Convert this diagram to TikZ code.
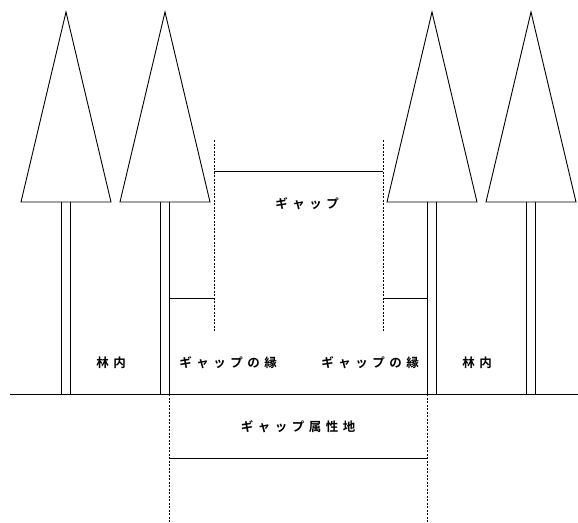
\documentclass[tikz,border=0pt]{standalone}
\usepackage{fontspec}
\newfontfamily\jp[LetterSpace=36]{Noto Sans CJK JP Bold}
\usepackage{tikz}

\tikzset{
  ln/.style={black, line width=0.9pt},
  dsh/.style={black, line width=0.8pt, dash pattern=on 2pt off 1.5pt},
  lbl/.style={font=\jp\fontsize{12.5}{12.5}\selectfont, inner sep=0pt}
}

\begin{document}
\begin{tikzpicture}[x=1pt, y=-1pt]
    \useasboundingbox (0,0) rectangle (578,522);
    % trees: crown and double trunk
    \foreach \tx in {66,165,432,531} {
      \draw[ln] (\tx,12) -- (\tx+45,202) -- (\tx-45,202) -- cycle;
      \draw[ln] (\tx-4.5,202) -- (\tx-4.5,394);
      \draw[ln] (\tx+4.5,202) -- (\tx+4.5,394);
    }
    % ground
    \draw[ln] (10,394) -- (578,394);
    % gap above
    \draw[dsh] (214,140) -- (214,331);
    \draw[dsh] (383,140) -- (383,331);
    \draw[ln] (214,171) -- (383,171);
    \draw[ln] (169.5,298) -- (214,298);
    \draw[ln] (383,298) -- (427.5,298);
    % gap area on the ground
    \draw[dsh] (169.5,394) -- (169.5,522);
    \draw[dsh] (427.5,394) -- (427.5,522);
    \draw[ln] (169.5,458) -- (427.5,458);
    % labels
    \node[lbl] (gap)  at (307,204) {ギャップ};
    \node[lbl] (inl)  at (111,363) {林内};
    \node[lbl] (edgl) at (228,363) {ギャップの縁};
    \node[lbl] (edgr) at (370,363) {ギャップの縁};
    \node[lbl] (inr)  at (477,363) {林内};
    \node[lbl] (area) at (298,427) {ギャップ属性地};
  \end{tikzpicture}
\end{document}
